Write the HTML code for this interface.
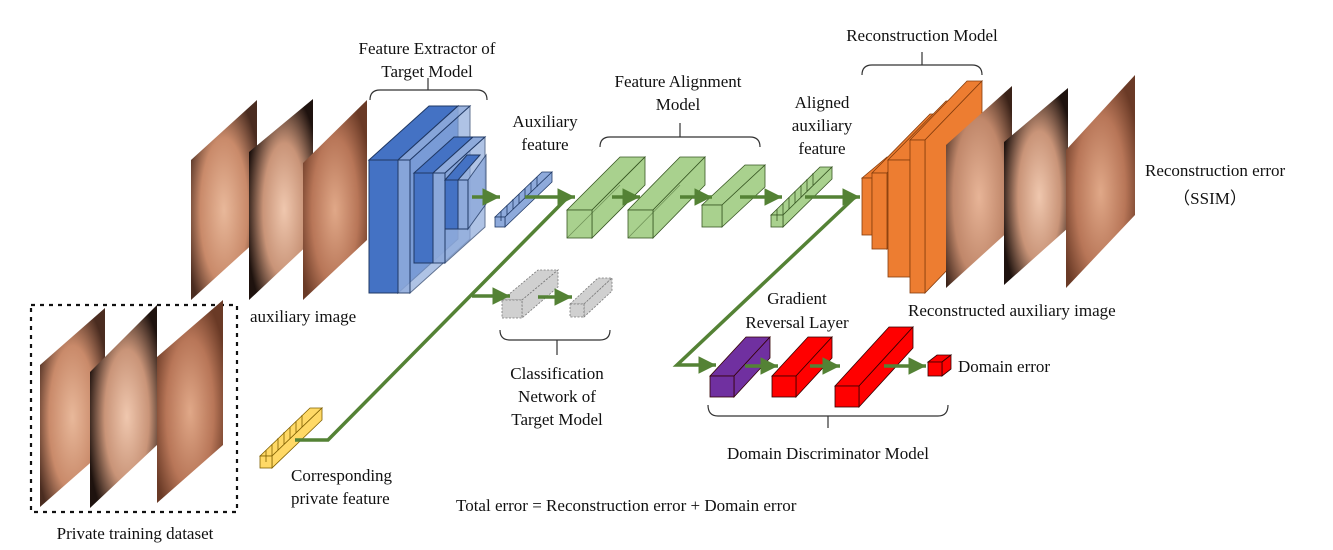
<!DOCTYPE html>
<html><head><meta charset="utf-8"><style>
html,body{margin:0;padding:0;background:#fff;}
svg{display:block;}
text{font-family:"Liberation Serif",serif;font-size:17px;fill:#111;}
</style></head><body>
<svg width="1333" height="550" viewBox="0 0 1333 550" xmlns="http://www.w3.org/2000/svg">
<defs>
<marker id="ah" markerWidth="6" markerHeight="6" refX="5" refY="3" orient="auto" markerUnits="strokeWidth"><path d="M0,0.5 L5,3 L0,5.5 z" fill="#548235"/></marker>
<radialGradient id="sk1" cx="0.5" cy="0.55" r="0.6"><stop offset="0" stop-color="#e8b89a"/><stop offset="0.6" stop-color="#c98a6a"/><stop offset="1" stop-color="#4a2c20"/></radialGradient>
<radialGradient id="sk2" cx="0.55" cy="0.55" r="0.6"><stop offset="0" stop-color="#efc7ae"/><stop offset="0.55" stop-color="#c99478"/><stop offset="1" stop-color="#1e120e"/></radialGradient>
<radialGradient id="sk3" cx="0.5" cy="0.55" r="0.6"><stop offset="0" stop-color="#e0a888"/><stop offset="0.6" stop-color="#b87658"/><stop offset="1" stop-color="#6a3a26"/></radialGradient>
<radialGradient id="sk4" cx="0.5" cy="0.55" r="0.65"><stop offset="0" stop-color="#e7b497"/><stop offset="0.6" stop-color="#c0876a"/><stop offset="1" stop-color="#3a2218"/></radialGradient>
</defs>

<!-- auxiliary images -->
<polygon points="191,160 257,100 257,240 191,300" fill="url(#sk1)"/>
<polygon points="249,152 313,99 313,240 249,300" fill="url(#sk2)"/>
<polygon points="303,163 367,100 367,240 303,300" fill="url(#sk3)"/>

<!-- blue feature extractor -->
<g stroke="#1f3864" stroke-width="1">
<polygon points="369,160 429,106 458,106 398,160" fill="#4472c4"/>
<polygon points="398,160 458,106 458,239 398,293" fill="#4a78cc"/>
<rect x="369" y="160" width="29" height="133" fill="#4472c4"/>
<polygon points="398,160 458,106 470,106 410,160" fill="#8eaadb" opacity="0.9"/>
<rect x="398" y="160" width="12" height="133" fill="#8eaadb" opacity="0.9"/>
<polygon points="410,160 470,106 470,239 410,293" fill="#8eaadb" opacity="0.7"/>
<polygon points="414,173 454,137 473,137 433,173" fill="#4472c4"/>
<rect x="414" y="173" width="19" height="90" fill="#4472c4"/>
<polygon points="433,173 473,137 485,137 445,173" fill="#8eaadb"/>
<rect x="433" y="173" width="12" height="90" fill="#8eaadb" opacity="0.9"/>
<polygon points="445,173 485,137 485,227 445,263" fill="#8eaadb" opacity="0.7"/>
<polygon points="445,180 467,155 480,155 458,180" fill="#4472c4"/>
<rect x="445" y="180" width="13" height="49" fill="#4472c4"/>
<rect x="458" y="180" width="10" height="49" fill="#8eaadb"/>
<polygon points="468,180 486,155 486,204 468,229" fill="#8eaadb" opacity="0.8"/>
</g>

<!-- brackets -->
<g fill="none" stroke="#333" stroke-width="1.2">
<path d="M370,100 Q370,90 380,90 L477,90 Q487,90 487,100 M428,90 V78"/>
<path d="M600,147 Q600,137 610,137 L750,137 Q760,137 760,147 M680,137 V123"/>
<path d="M862,75 Q862,65 872,65 L972,65 Q982,65 982,75 M922,65 V52"/>
<path d="M500,330 Q500,340 510,340 L600,340 Q610,340 610,330 M557,340 V355"/>
<path d="M708,405 Q708,416 718,416 L938,416 Q948,416 948,405 M828,416 V428"/>
</g>

<!-- aux feature cubes (blue) -->
<g stroke="#1f3864" stroke-width="0.8" fill="#8eaadb">
<polygon points="495,217 542,172 552,172 505,217"/>
<polygon points="505,217 552,172 552,182 505,227"/>
<rect x="495" y="217" width="10" height="10"/>
<path d="M501,211 v10 M507,205 v10 M513,199 v10 M519,194 v10 M525,188 v10 M531,182 v10 M537,177 v10" fill="none"/>
</g>

<!-- green alignment boxes -->
<g stroke="#385723" stroke-width="0.8" fill="#a9d18e">
<polygon points="567,210 620,157 645,157 592,210"/><polygon points="592,210 645,157 645,185 592,238"/><rect x="567" y="210" width="25" height="28"/>
<line x1="567" y1="238" x2="620" y2="185" opacity="0.5"/>
<polygon points="628,210 680,157 705,157 653,210"/><polygon points="653,210 705,157 705,185 653,238"/><rect x="628" y="210" width="25" height="28"/>
<line x1="628" y1="238" x2="680" y2="185" opacity="0.5"/>
<polygon points="702,205 745,165 765,165 722,205"/><polygon points="722,205 765,165 765,187 722,227"/><rect x="702" y="205" width="20" height="22"/>
<polygon points="771,215 820,167 832,167 783,215"/><polygon points="783,215 832,167 832,179 783,227"/><rect x="771" y="215" width="12" height="12"/>
<path d="M777,209 v12 M783,203 v12 M789,197 v12 M795,191 v12 M801,185 v12 M807,179 v12 M813,173 v12" fill="none"/>
</g>

<!-- gray classification boxes -->
<g stroke="#777" stroke-width="0.8" fill="#d0d0d0" stroke-dasharray="2,1.5">
<polygon points="502,300 538,270 558,270 522,300"/><polygon points="522,300 558,270 558,287 522,318"/><rect x="502" y="300" width="20" height="18"/>
<polygon points="570,304 598,278 612,278 584,304"/><polygon points="584,304 612,278 612,291 584,317"/><rect x="570" y="304" width="14" height="13"/>
</g>

<!-- orange reconstruction -->
<g stroke="#843c0c" stroke-width="0.8" fill="#ed7d31">
<polygon points="862,178 887,157 897,157 872,178"/><rect x="862" y="178" width="10" height="57"/>
<polygon points="872,173 930,114 945,114 887,173"/><polygon points="887,173 945,114 945,190 887,249"/><rect x="872" y="173" width="15" height="76"/>
<polygon points="888,160 946,101 968,101 910,160"/><polygon points="910,160 968,101 968,218 910,277"/><rect x="888" y="160" width="22" height="117"/>
<polygon points="910,140 967,81 982,81 925,140"/><polygon points="925,140 982,81 982,234 925,293"/><rect x="910" y="140" width="15" height="153"/>
</g>

<!-- reconstructed faces -->
<polygon points="946,145 1012,86 1012,228 946,288" fill="url(#sk4)"/>
<polygon points="1004,142 1068,88 1068,228 1004,285" fill="url(#sk2)"/>
<polygon points="1066,150 1135,75 1135,215 1066,288" fill="url(#sk3)"/>

<!-- domain discriminator -->
<g stroke="#300" stroke-width="0.8">
<polygon points="710,376 746,337 770,337 734,376" fill="#7030a0"/><polygon points="734,376 770,337 770,358 734,397" fill="#7030a0"/><rect x="710" y="376" width="24" height="21" fill="#7030a0"/>
<polygon points="772,376 808,337 832,337 796,376" fill="#ff0000"/><polygon points="796,376 832,337 832,358 796,397" fill="#ff0000"/><rect x="772" y="376" width="24" height="21" fill="#ff0000"/>
<polygon points="835,386 889,327 913,327 859,386" fill="#ff0000"/><polygon points="859,386 913,327 913,348 859,407" fill="#ff0000"/><rect x="835" y="386" width="24" height="21" fill="#ff0000"/>
<polygon points="928,362 937,355 951,355 942,362" fill="#ff0000"/><polygon points="942,362 951,355 951,369 942,376" fill="#ff0000"/><rect x="928" y="362" width="14" height="14" fill="#ff0000"/>
</g>

<!-- private dataset -->
<rect x="31" y="305" width="206" height="207" fill="none" stroke="#111" stroke-width="2.2" stroke-dasharray="4,5"/>
<polygon points="40,365 105,308 105,450 40,507" fill="url(#sk1)"/>
<polygon points="90,372 157,305 157,445 90,508" fill="url(#sk2)"/>
<polygon points="157,357 223,300 223,445 157,503" fill="url(#sk3)"/>

<!-- yellow private feature -->
<g stroke="#7f6000" stroke-width="0.8" fill="#ffd966">
<polygon points="260,456 310,408 322,408 272,456"/><polygon points="272,456 322,408 322,420 272,468"/><rect x="260" y="456" width="12" height="12"/>
<path d="M266,450 v12 M272,444 v12 M278,438 v12 M284,432 v12 M290,427 v12 M296,421 v12 M302,415 v12" fill="none"/>
</g>

<!-- green connectors (on top) -->
<g stroke="#548235" stroke-width="3.5" fill="none">
<line x1="472" y1="197" x2="500" y2="197" marker-end="url(#ah)"/>
<line x1="525" y1="197" x2="575" y2="197" marker-end="url(#ah)"/>
<line x1="612" y1="197" x2="640" y2="197" marker-end="url(#ah)"/>
<line x1="680" y1="197" x2="712" y2="197" marker-end="url(#ah)"/>
<line x1="740" y1="197" x2="782" y2="197" marker-end="url(#ah)"/>
<line x1="805" y1="197" x2="860" y2="197" marker-end="url(#ah)"/>
<polyline points="295,440 328,440 568,197"/>
<line x1="472" y1="296" x2="510" y2="296" marker-end="url(#ah)"/>
<line x1="538" y1="297" x2="572" y2="297" marker-end="url(#ah)"/>
<polyline points="855,197 677,365 716,365" marker-end="url(#ah)"/>
<line x1="745" y1="366" x2="778" y2="366" marker-end="url(#ah)"/>
<line x1="810" y1="366" x2="840" y2="366" marker-end="url(#ah)"/>
<line x1="884" y1="366" x2="926" y2="366" marker-end="url(#ah)"/>
</g>

<!-- text -->
<g text-anchor="middle">
<text x="427" y="54">Feature Extractor of</text>
<text x="427" y="77">Target Model</text>
<text x="545" y="127">Auxiliary</text>
<text x="545" y="150">feature</text>
<text x="678" y="87">Feature Alignment</text>
<text x="678" y="110">Model</text>
<text x="822" y="108">Aligned</text>
<text x="822" y="131">auxiliary</text>
<text x="822" y="154">feature</text>
<text x="922" y="41">Reconstruction Model</text>
<text x="557" y="379">Classification</text>
<text x="557" y="402">Network of</text>
<text x="557" y="425">Target Model</text>
<text x="797" y="304">Gradient</text>
<text x="797" y="328">Reversal Layer</text>
<text x="828" y="459">Domain Discriminator Model</text>
<text x="135" y="539">Private training dataset</text>
<text x="1210" y="204">（SSIM）</text>
</g>
<text x="250" y="322">auxiliary image</text>
<text x="908" y="316">Reconstructed auxiliary image</text>
<text x="1145" y="176">Reconstruction error</text>
<text x="958" y="372">Domain error</text>
<text x="291" y="481">Corresponding</text>
<text x="291" y="504">private feature</text>
<text x="456" y="511">Total error = Reconstruction error + Domain error</text>
</svg>
</body></html>
